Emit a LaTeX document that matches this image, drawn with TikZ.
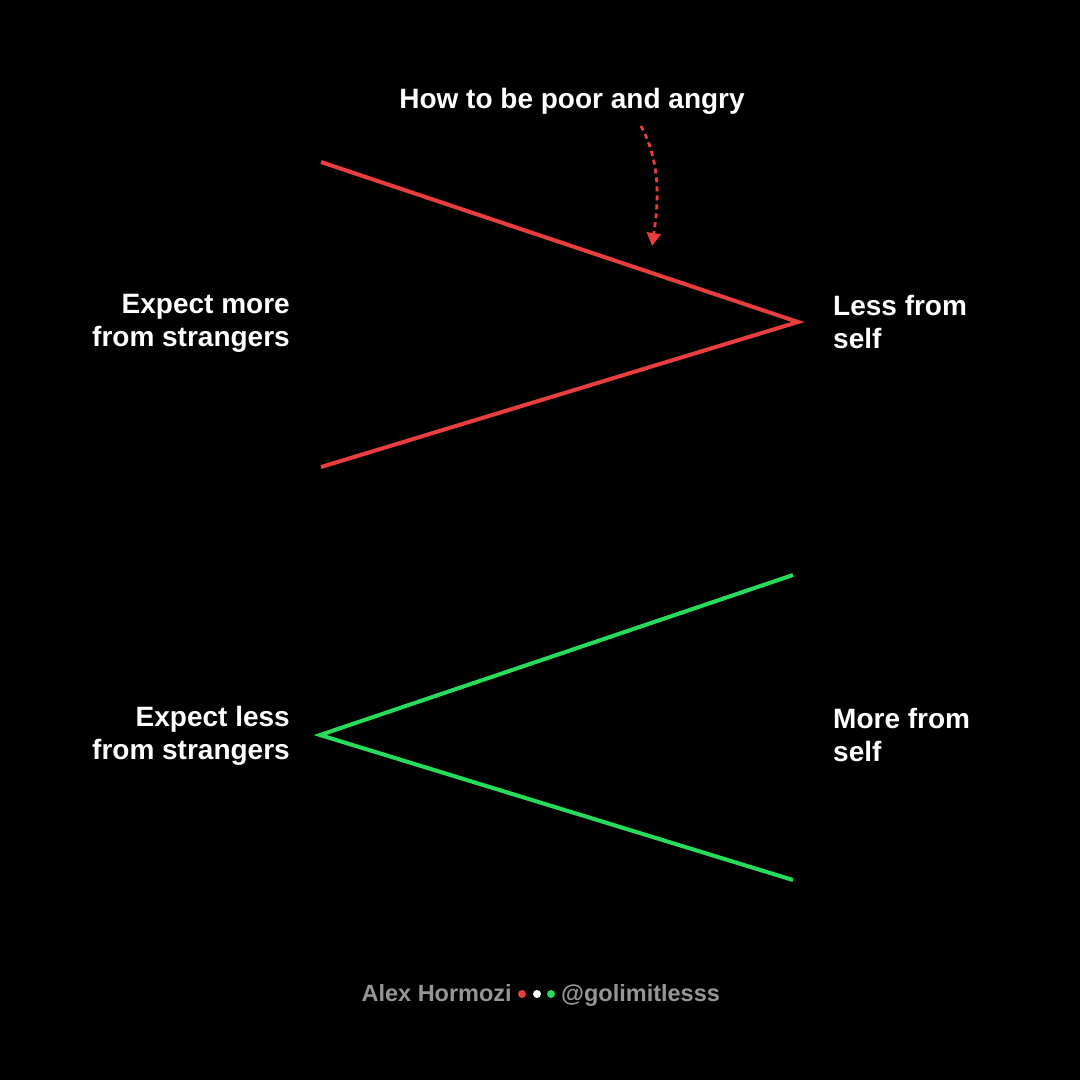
\documentclass[tikz,border=0pt]{standalone}
\usepackage{fontspec}
\setmainfont{Liberation Sans}
\usetikzlibrary{arrows.meta}
\definecolor{redline}{RGB}{232,62,62}
\definecolor{greenline}{RGB}{38,220,90}
\definecolor{footgray}{RGB}{150,150,150}
\begin{document}
\begin{tikzpicture}[x=1pt,y=-1pt,
  lbl/.style={text=white,font=\bfseries\fontsize{28}{33}\selectfont,inner sep=0pt},
  redstroke/.style={draw=redline,line width=4pt,line join=miter},
  greenstroke/.style={draw=greenline,line width=4pt,line join=miter},
  foot/.style={text=footgray,font=\bfseries\fontsize{23.5}{27}\selectfont,inner sep=0pt},
  dot/.style={circle,inner sep=0pt,minimum size=8pt}]
\fill[black] (0,0) rectangle (1080,1080);
\useasboundingbox (0,0) rectangle (1080,1080);
% red chevron
\coordinate (r1) at (321,162);
\coordinate (r2) at (798,322);
\coordinate (r3) at (321,467);
\draw[redstroke] (r1) -- (r2) -- (r3);
% green chevron
\coordinate (g1) at (793,575);
\coordinate (g2) at (320,735);
\coordinate (g3) at (793,880);
\draw[greenstroke] (g1) -- (g2) -- (g3);
% labels
\node[lbl,align=right,anchor=east] (em) at (290,323) {Expect more\\from strangers};
\node[lbl,align=left,anchor=west] (lf) at (833,322) {Less from\\self};
\node[lbl,align=right,anchor=east] (el) at (290,736) {Expect less\\from strangers};
\node[lbl,align=left,anchor=west] (mf) at (833,735) {More from\\self};
\node[lbl] (title) at (572,101) {How to be poor and angry};
% dashed arrow
\coordinate (as) at (641,126);
\coordinate (ae) at (652,246);
\draw[draw=redline,line width=2.8pt,dash pattern=on 5pt off 4pt,
  -{Triangle[length=13pt,width=14pt,fill=redline]}]
  (as) .. controls (662,165) and (658,205) .. (ae);
% footer
\node[foot,anchor=base east] (name) at (512,1001) {Alex Hormozi};
\node[dot,fill=redline] (d1) at (522,994) {};
\node[dot,fill=white] (d2) at (537,994) {};
\node[dot,fill=greenline] (d3) at (551,994) {};
\node[foot,anchor=base west] (handle) at (561,1001) {@golimitlesss};
\end{tikzpicture}
\end{document}
